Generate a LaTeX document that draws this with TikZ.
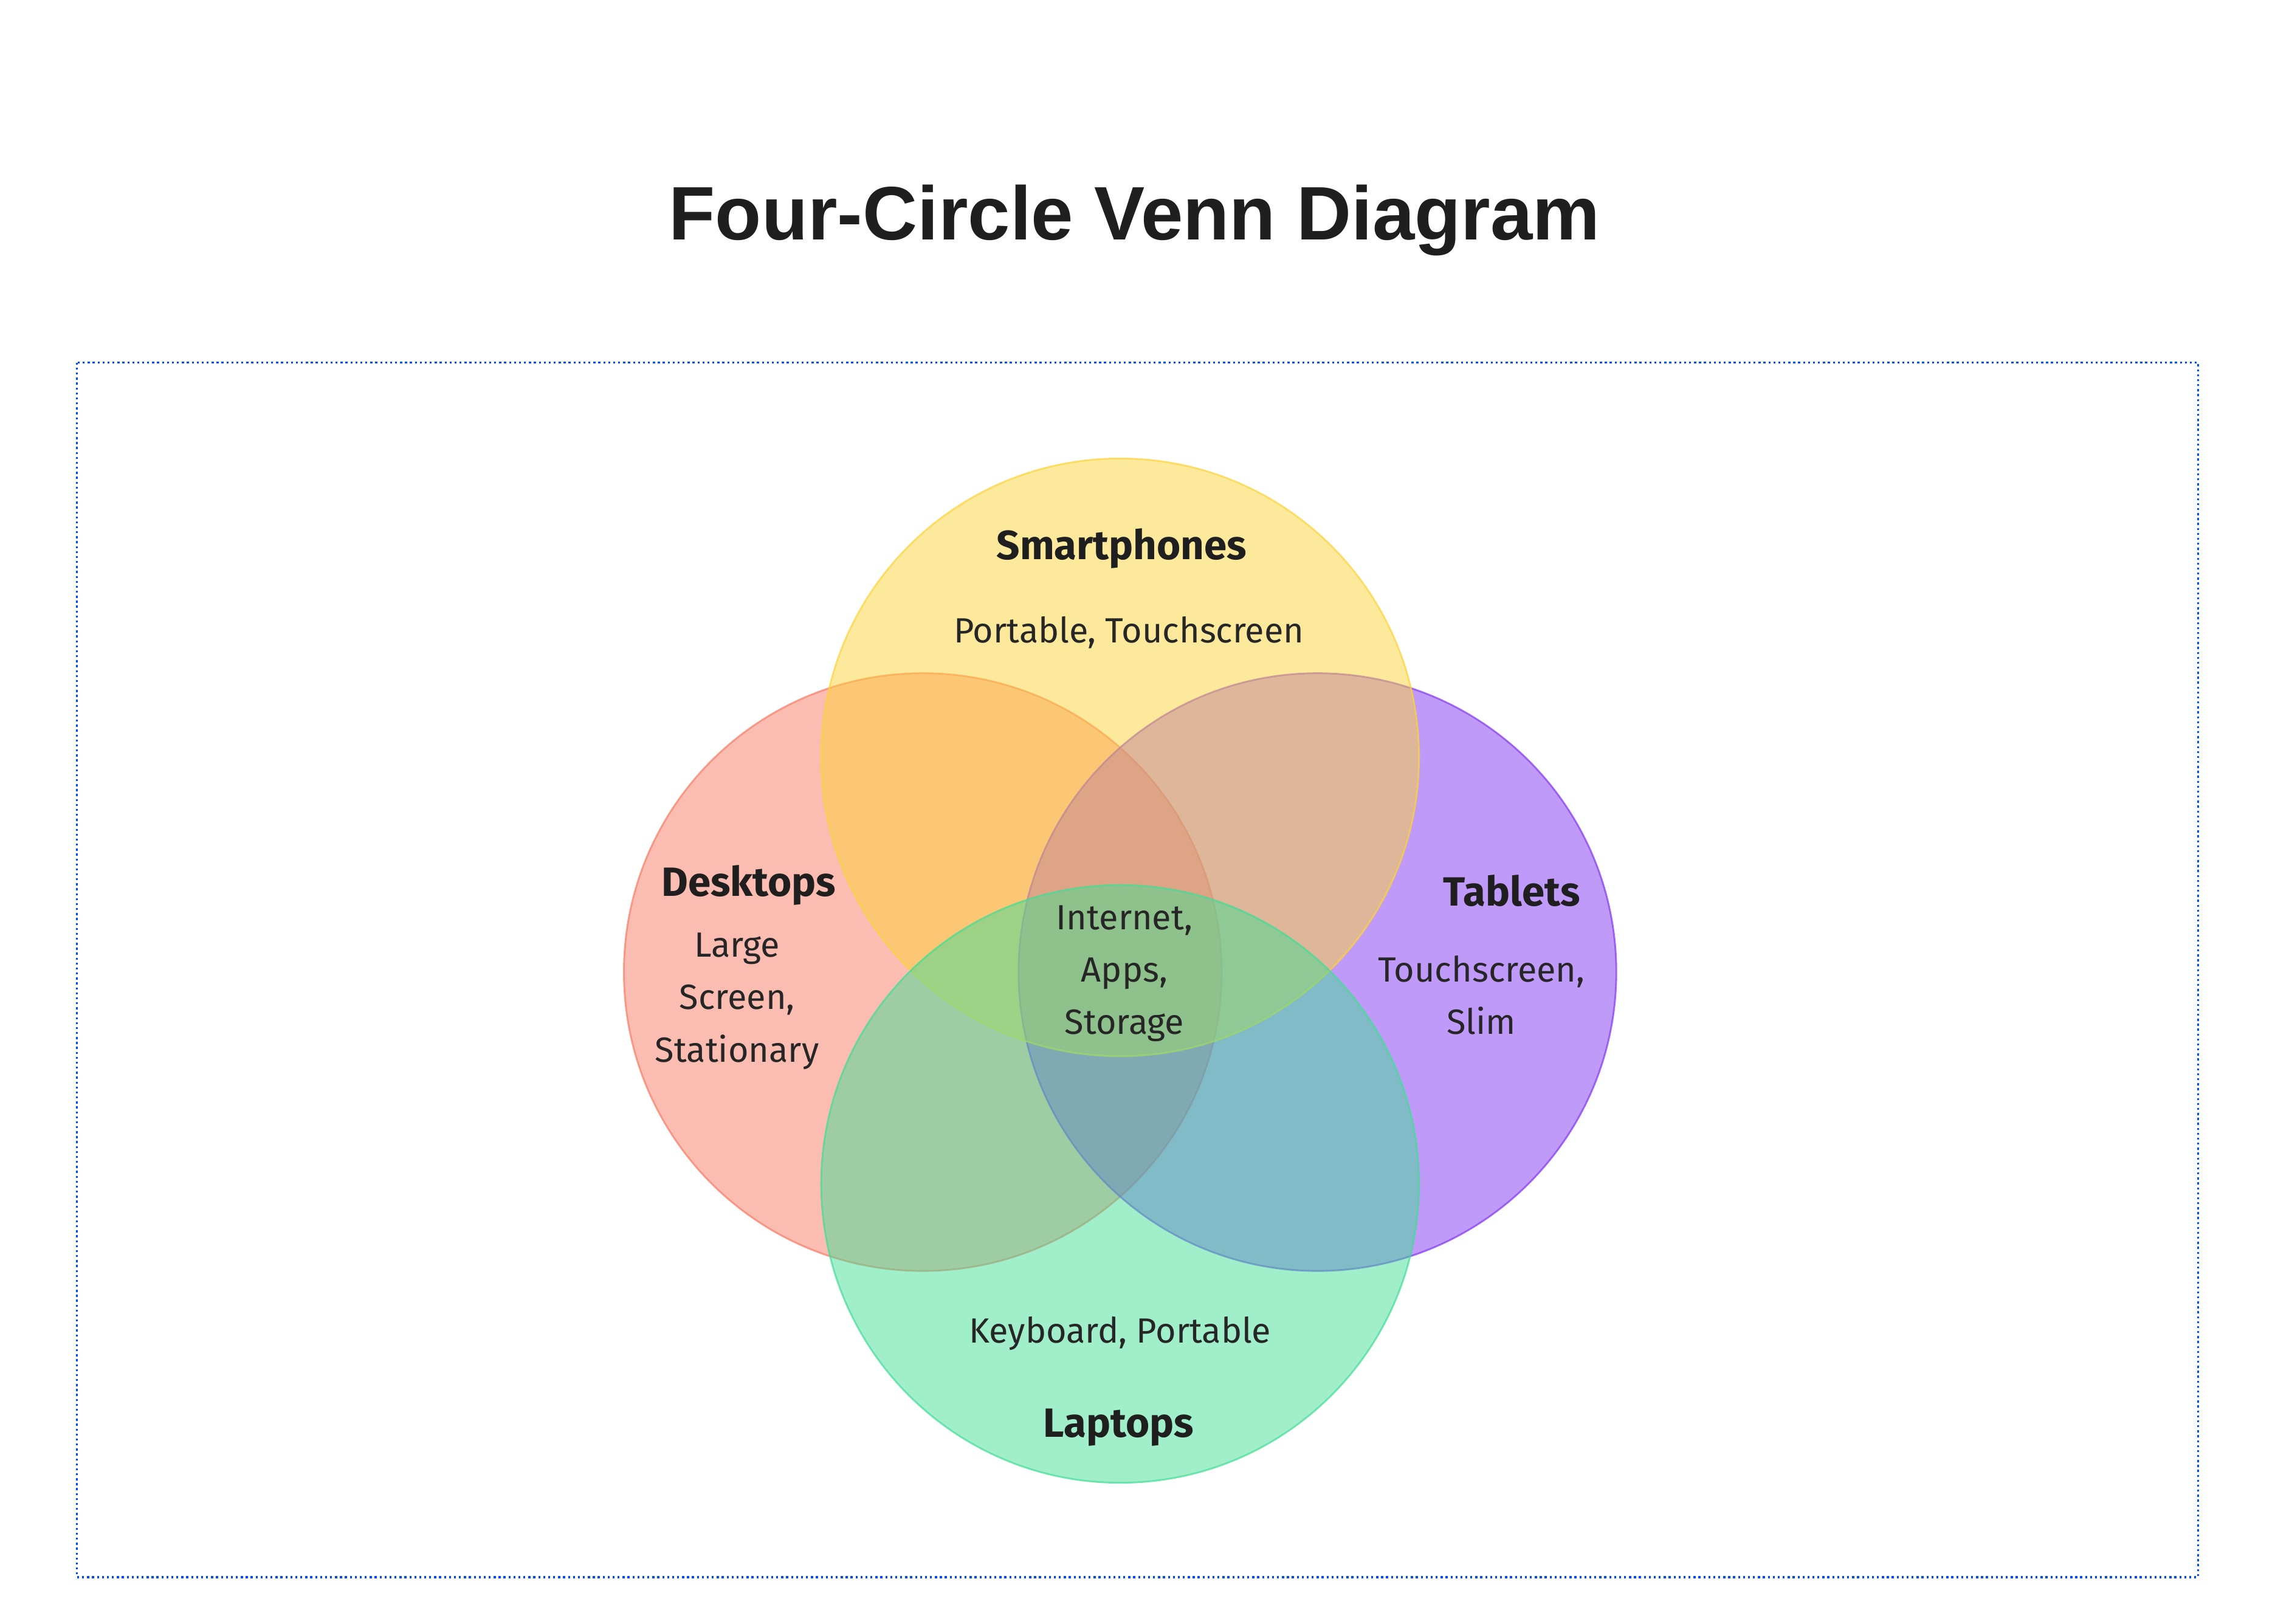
\documentclass[tikz,border=0pt]{standalone}
\usepackage{fontspec}
\setmainfont{Fira Sans}
\newfontfamily\titlefont{Liberation Sans}
\definecolor{cD}{HTML}{F87A64}
\definecolor{cS}{HTML}{FCD33A}
\definecolor{cT}{HTML}{8236F2}
\definecolor{cL}{HTML}{42DD96}
\begin{document}
\begin{tikzpicture}[x=0.4975pt,y=-0.4975pt,
  venn/.style={fill opacity=0.5, draw opacity=0.7, line width=0.6pt},
  head/.style={font=\fontsize{14}{17}\selectfont\bfseries, text=black!88},
  body/.style={font=\fontsize{12}{18}\selectfont, text=black!85, align=center}]
\useasboundingbox (0,0) rectangle (1568,1119);
\node[font=\titlefont\fontsize{26}{30}\selectfont\bfseries, text=black!88] (title) at (782,152) {Four-Circle Venn Diagram};
\draw[blue!70!cyan, densely dotted, line width=0.7pt] (53,250) rectangle (1515,1087);
\fill[venn, fill=cD, draw=cD] (636,670) circle (206);
\fill[venn, fill=cT, draw=cT] (908,670) circle (206);
\fill[venn, fill=cS, draw=cS] (772,522) circle (206);
\fill[venn, fill=cL, draw=cL] (772,816) circle (206);
\node[head] (sh) at (773,378) {Smartphones};
\node[body] (sb) at (778,436) {Portable, Touchscreen};
\node[head] (dh) at (516,610) {Desktops};
\node[body] (db) at (508,690) {Large\\Screen,\\Stationary};
\node[head] (th) at (1042,614) {Tablets};
\node[body] (tb) at (1021,686) {Touchscreen,\\Slim};
\node[body] (cb) at (775,671) {Internet,\\Apps,\\Storage};
\node[body] (lb) at (772,919) {Keyboard, Portable};
\node[head] (lh) at (771,984) {Laptops};
\end{tikzpicture}
\end{document}
